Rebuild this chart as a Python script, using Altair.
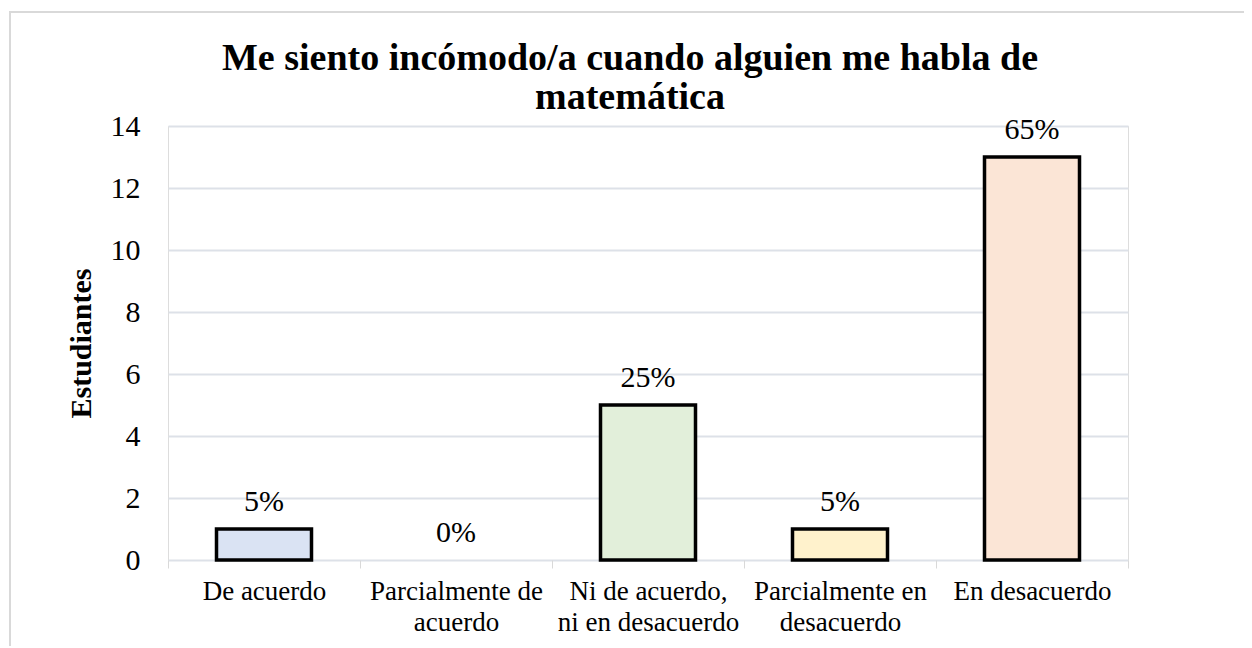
import altair as alt
import pandas as pd

categories = ["De acuerdo", "Parcialmente de acuerdo", "Ni de acuerdo, ni en desacuerdo",
              "Parcialmente en desacuerdo", "En desacuerdo"]
label_lines = ["De acuerdo", "Parcialmente de|acuerdo", "Ni de acuerdo,|ni en desacuerdo",
               "Parcialmente en|desacuerdo", "En desacuerdo"]
students = [1, 0, 5, 1, 13]
percents = ["5%", "0%", "25%", "5%", "65%"]
colors = ["#dae3f3", "#ffffff", "#e2efda", "#fff2cc", "#fbe5d6"]

df = pd.DataFrame({"cat": categories, "lab": label_lines, "value": students,
                   "pct": percents, "color": colors})

FONT = "Liberation Serif"
label_map = {c: l for c, l in zip(categories, label_lines)}
label_expr = " : ".join(
    [f"datum.label == '{c}' ? split('{l}', '|')" for c, l in label_map.items()]
) + " : datum.label"

x = alt.X("cat:N", sort=categories, title=None,
          scale=alt.Scale(paddingInner=0, paddingOuter=0),
          axis=alt.Axis(labelAngle=0, labelFont=FONT, labelFontSize=27, labelColor="#000000",
                        labelLineHeight=31, labelPadding=10, labelExpr=label_expr, labelLimit=0,
                        ticks=True, tickBand="extent", tickSize=8, tickColor="#d9d9d9",
                        domain=False, grid=False))
y = alt.Y("value:Q", title="Estudiantes",
          scale=alt.Scale(domain=[0, 14], nice=False),
          axis=alt.Axis(values=[0, 2, 4, 6, 8, 10, 12, 14], labelFont=FONT, labelFontSize=30,
                        labelColor="#000000", labelPadding=28, ticks=False, domain=False,
                        gridColor="#dde1e8", gridWidth=2,
                        titleFont=FONT, titleFontSize=30, titleFontWeight="bold",
                        titleColor="#000000", titlePadding=14))

border = alt.Chart(df).mark_rect(fill=None, stroke="#d9d9d9", strokeWidth=1.5).encode(
    x=alt.value(-158), x2=alt.value(1100), y=alt.value(-114), y2=alt.value(540)
)

bars = alt.Chart(df).transform_filter("datum.value > 0").mark_bar(
    size=95, stroke="#000000", strokeWidth=3.5
).encode(x=x, y=y, fill=alt.Fill("color:N", scale=None))

labels = alt.Chart(df).mark_text(
    font=FONT, fontSize=30, baseline="alphabetic", dy=-18, color="#000000"
).encode(x=alt.X("cat:N", sort=categories), y="value:Q", text="pct:N")

chart = alt.layer(border, bars, labels).properties(
    width=960, height=434,
    padding={"left": 160, "top": 118, "right": 116, "bottom": 86},
    autosize=alt.AutoSizeParams(type="none"),
    title=alt.TitleParams(
        ["Me siento incómodo/a cuando alguien me habla de", "matemática"],
        font=FONT, fontSize=38, fontWeight="bold", color="#000000",
        anchor="middle", dx=-18, offset=-106, lineHeight=39),
).configure_view(stroke=None).configure(background="#ffffff")

chart.save("out.html", embed_options={"renderer": "svg", "actions": False})
